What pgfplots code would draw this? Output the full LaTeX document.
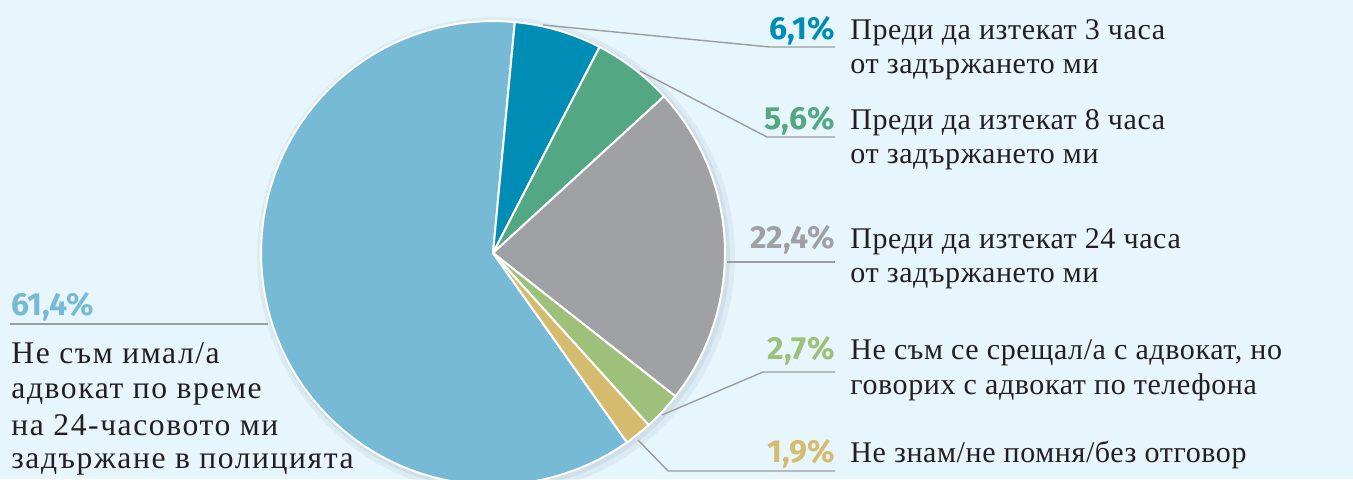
\documentclass[border=0pt]{standalone}
\usepackage{pgfplots}
\pgfplotsset{compat=1.18}
\usepackage{fontspec}
\setmainfont{Liberation Serif}
\newfontfamily\pct{Fira Sans}
\newfontfamily\rtf[LetterSpace=2]{Liberation Serif}
\newfontfamily\ltf[LetterSpace=5]{Liberation Serif}
\definecolor{bg}{HTML}{E7F5FC}
\definecolor{cBig}{HTML}{77BAD6}
\definecolor{cA}{HTML}{008DB5}
\definecolor{cB}{HTML}{53A883}
\definecolor{cC}{HTML}{A0A1A5}
\definecolor{cD}{HTML}{9DC07A}
\definecolor{cE}{HTML}{D4BB6E}
\definecolor{lead}{HTML}{9C9DA0}
\definecolor{txt}{HTML}{231F20}
\definecolor{shd}{HTML}{B9CCDA}
% shares in percent
\def\vA{6.1}\def\vB{5.6}\def\vC{22.4}\def\vD{2.7}\def\vE{1.9}\def\vF{61.4}
\pgfmathsetmacro{\aA}{5.4}
\pgfmathsetmacro{\aB}{\aA+3.6*\vA}
\pgfmathsetmacro{\aC}{\aB+3.6*\vB}
\pgfmathsetmacro{\aD}{\aC+3.6*\vC}
\pgfmathsetmacro{\aE}{\aD+3.6*\vD}
\pgfmathsetmacro{\aF}{\aE+3.6*\vE}
\pgfmathsetmacro{\aG}{\aA+360}
\newcommand{\tl}{\fontsize{15}{17}\selectfont\rtf\color{txt}}
\newcommand{\lftxt}{\fontsize{15.8}{17}\selectfont\ltf\color{txt}}
\newcommand{\pl}{\fontsize{16}{17}\selectfont\pct\bfseries}
\begin{document}
\begin{tikzpicture}
\begin{axis}[scale only axis, width=676.5pt, height=239.5pt,
  xmin=0, xmax=1353, ymin=0, ymax=479,
  axis line style={draw=none}, ticks=none,
  axis background/.style={fill=bg}]
% soft shadow
\addplot[draw=none, fill=shd, fill opacity=0.25, domain=0:360, samples=90] ({496+239*sin(x)},{223+239*cos(x)}) -- cycle;
\addplot[draw=none, fill=shd, fill opacity=0.35, domain=0:360, samples=90] ({495+235*sin(x)},{224+235*cos(x)}) -- cycle;
% slices
\addplot[fill=cBig, draw=white, line width=1pt, line join=round, domain=\aF:\aG, samples=80] ({493+232*sin(x)},{226+232*cos(x)}) -- (493,226) -- cycle;
\addplot[fill=cA, draw=white, line width=1pt, line join=round, domain=\aA:\aB, samples=20] ({493+232*sin(x)},{226+232*cos(x)}) -- (493,226) -- cycle;
\addplot[fill=cB, draw=white, line width=1pt, line join=round, domain=\aB:\aC, samples=20] ({493+232*sin(x)},{226+232*cos(x)}) -- (493,226) -- cycle;
\addplot[fill=cC, draw=white, line width=1pt, line join=round, domain=\aC:\aD, samples=50] ({493+232*sin(x)},{226+232*cos(x)}) -- (493,226) -- cycle;
\addplot[fill=cD, draw=white, line width=1pt, line join=round, domain=\aD:\aE, samples=10] ({493+232*sin(x)},{226+232*cos(x)}) -- (493,226) -- cycle;
\addplot[fill=cE, draw=white, line width=1pt, line join=round, domain=\aE:\aF, samples=10] ({493+232*sin(x)},{226+232*cos(x)}) -- (493,226) -- cycle;
% leader lines
\addplot[lead, line width=0.7pt] coordinates {(543,454) (770,432) (835,432)};
\addplot[lead, line width=0.7pt] coordinates {(640,408) (767,342) (835,342)};
\addplot[lead, line width=0.7pt] coordinates {(727,217) (835,217)};
\addplot[lead, line width=0.7pt] coordinates {(662,64) (763,107) (835,107)};
\addplot[lead, line width=0.7pt] coordinates {(638,39) (668,8) (835,8)};
\addplot[lead, line width=0.7pt] coordinates {(10,155) (268,155)};
% percent labels
\begin{scope}[every node/.style={inner sep=0pt}]
\node[anchor=base east, text=cA] at (835,440) {\pl 6,1\%};
\node[anchor=base east, text=cB] at (835,350) {\pl 5,6\%};
\node[anchor=base east, text=cC] at (835,231) {\pl 22,4\%};
\node[anchor=base east, text=cD] at (835,120) {\pl 2,7\%};
\node[anchor=base east, text=cE] at (835,17) {\pl 1,9\%};
\node[anchor=base west, text=cBig] at (11,164) {\pl 61,4\%};
% category texts
\node[anchor=base west] at (850,440) {\tl Преди да изтекат 3 часа};
\node[anchor=base west] at (850,406) {\tl от задържането ми};
\node[anchor=base west] at (850,350) {\tl Преди да изтекат 8 часа};
\node[anchor=base west] at (850,316) {\tl от задържането ми};
\node[anchor=base west] at (850,231) {\tl Преди да изтекат 24 часа};
\node[anchor=base west] at (850,197) {\tl от задържането ми};
\node[anchor=base west] at (850,120) {\tl Не съм се срещал/а с адвокат, но};
\node[anchor=base west] at (850,85) {\tl говорих с адвокат по телефона};
\node[anchor=base west] at (850,17) {\tl Не знам/не помня/без отговор};
\node[anchor=base west] at (11,116) {\lftxt Не съм имал/а};
\node[anchor=base west] at (11,81) {\lftxt адвокат по време};
\node[anchor=base west] at (11,44) {\lftxt на 24-часовото ми};
\node[anchor=base west] at (11,11) {\lftxt задържане в полицията};
\end{scope}
\end{axis}
\end{tikzpicture}
\end{document}
